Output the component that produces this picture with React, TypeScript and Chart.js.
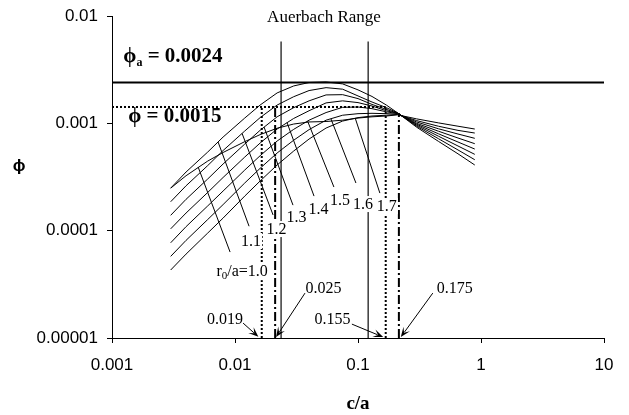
import React, { useEffect, useRef } from "react";
import { Chart, registerables } from "chart.js";

Chart.register(...registerables);

// ---------------- data ----------------
const cOverA = [0.003, 0.004, 0.006, 0.008, 0.012, 0.016, 0.022, 0.03, 0.04, 0.055, 0.075, 0.1, 0.13, 0.17, 0.21, 0.3, 0.45, 0.65, 0.89];

const phiR10 = [2.49e-4, 3.25e-4, 4.45e-4, 5.35e-4, 6.75e-4, 7.85e-4, 9.0e-4, 9.85e-4, 1.03e-3, 1.04e-3, 1.07e-3, 1.12e-3, 1.15e-3, 1.17e-3, 1.2e-3, 1.1e-3, 1.01e-3, 9.4e-4, 8.85e-4];
const phiR11 = [2.49e-4, 3.52e-4, 5.40e-4, 7.45e-4, 1.12e-3, 1.48e-3, 1.92e-3, 2.23e-3, 2.40e-3, 2.43e-3, 2.33e-3, 2.05e-3, 1.78e-3, 1.48e-3, 1.25e-3, 9.2e-4, 6.8e-4, 5.2e-4, 4.09e-4];
const phiR12 = [1.86e-4, 2.62e-4, 4.04e-4, 5.58e-4, 8.48e-4, 1.13e-3, 1.48e-3, 1.77e-3, 2.02e-3, 2.15e-3, 2.08e-3, 1.80e-3, 1.58e-3, 1.40e-3, 1.25e-3, 9.4e-4, 7.2e-4, 5.65e-4, 4.58e-4];
const phiR13 = [1.39e-4, 1.96e-4, 3.03e-4, 4.18e-4, 6.41e-4, 8.61e-4, 1.15e-3, 1.40e-3, 1.62e-3, 1.84e-3, 1.85e-3, 1.70e-3, 1.50e-3, 1.35e-3, 1.24e-3, 9.6e-4, 7.6e-4, 6.15e-4, 5.14e-4];
const phiR14 = [1.04e-4, 1.46e-4, 2.27e-4, 3.13e-4, 4.85e-4, 6.55e-4, 8.85e-4, 1.11e-3, 1.31e-3, 1.55e-3, 1.62e-3, 1.56e-3, 1.45e-3, 1.31e-3, 1.24e-3, 9.8e-4, 8.0e-4, 6.7e-4, 5.76e-4];
const phiR15 = [7.71e-5, 1.09e-4, 1.70e-4, 2.34e-4, 3.67e-4, 4.99e-4, 6.84e-4, 8.79e-4, 1.07e-3, 1.26e-3, 1.41e-3, 1.42e-3, 1.37e-3, 1.28e-3, 1.23e-3, 1.0e-3, 8.45e-4, 7.3e-4, 6.46e-4];
const phiR16 = [5.76e-5, 8.12e-5, 1.27e-4, 1.75e-4, 2.78e-4, 3.81e-4, 5.29e-4, 6.96e-4, 8.74e-4, 1.07e-3, 1.19e-3, 1.23e-3, 1.24e-3, 1.23e-3, 1.22e-3, 1.03e-3, 8.9e-4, 7.95e-4, 7.25e-4];
const phiR17 = [4.30e-5, 6.05e-5, 9.50e-5, 1.31e-4, 2.10e-4, 2.90e-4, 4.09e-4, 5.52e-4, 7.14e-4, 9.04e-4, 1.05e-3, 1.13e-3, 1.17e-3, 1.19e-3, 1.21e-3, 1.06e-3, 9.4e-4, 8.6e-4, 8.12e-4];

const curveSeries = [phiR10, phiR11, phiR12, phiR13, phiR14, phiR15, phiR16, phiR17];
const curveNames = ["1.0", "1.1", "1.2", "1.3", "1.4", "1.5", "1.6", "1.7"];

// curve label anchors (centre x, baseline y)
const curveLabelX = [0.01142, 0.0135, 0.02177, 0.0316, 0.0477, 0.0713, 0.1096, 0.1716];
const curveLabelY = [3.77e-5, 7.19e-5, 9.30e-5, 1.216e-4, 1.428e-4, 1.73e-4, 1.59e-4, 1.523e-4];

// leader lines: from curve (top) to label (bottom)
const leaderTopX = [0.00502, 0.00729, 0.01142, 0.01722, 0.02648, 0.0389, 0.0603, 0.0949];
const leaderTopY = [3.91e-4, 6.69e-4, 8.05e-4, 9.24e-4, 1.017e-3, 1.05e-3, 1.099e-3, 1.118e-3];
const leaderBotX = [0.00912, 0.01301, 0.0204, 0.0296, 0.0439, 0.0637, 0.0962, 0.1506];
const leaderBotY = [6.32e-5, 1.10e-4, 1.40e-4, 1.73e-4, 2.10e-4, 2.55e-4, 2.78e-4, 2.24e-4];

// reference lines
const phiA = 0.0024;
const phiCrit = 0.00142; // drawn level of the "ϕ = 0.0015" line
const auerbachX = [0.0237, 0.121];
const auerbachTop = 0.0058;
const dottedX = [0.0165, 0.168];
const dashDotX = [0.0212, 0.215];
const dashDotTop = [0.00142, 0.00125];

// arrow annotations
const arrowText = ["0.019", "0.025", "0.155", "0.175"];
const arrowTextX = [0.00831, 0.0524, 0.062, 0.6115];
const arrowTextY = [1.347e-5, 2.65e-5, 1.347e-5, 2.65e-5];
const arrowTailX = [0.01163, 0.03707, 0.0892, 0.4055];
const arrowTailY = [1.377e-5, 2.62e-5, 1.347e-5, 2.62e-5];
const arrowTipX = [0.01549, 0.02157, 0.1601, 0.2229];
const arrowTipY = [1.026e-5, 1.02e-5, 1.02e-5, 1.02e-5];

// text annotations
const phiALabelAt = { x: 0.001235, y: 0.003726 };
const phiLabelAt = { x: 0.001356, y: 0.001035 };
const auerbachLabelAt = { x: 0.0529, y: 0.00885 };
const yTitleAt = 4e-4;

// axes
const xTicks = [0.001, 0.01, 0.1, 1, 10];
const xTickLabels = ["0.001", "0.01", "0.1", "1", "10"];
const yTicks = [0.00001, 0.0001, 0.001, 0.01];
const yTickLabels = ["0.00001", "0.0001", "0.001", "0.01"];

const SERIF = "'Liberation Serif', 'Times New Roman', 'DejaVu Serif', serif";
const SANS = "'Liberation Sans', Arial, 'DejaVu Sans', sans-serif";

function lineDs(pts: { x: number; y: number }[], extra: any = {}) {
  return {
    data: pts,
    showLine: true,
    borderColor: "#000",
    borderWidth: 1,
    pointRadius: 0,
    fill: false,
    tension: 0,
    ...extra,
  };
}

function drawArrow(ctx: CanvasRenderingContext2D, x0: number, y0: number, x1: number, y1: number) {
  const a = Math.atan2(y1 - y0, x1 - x0);
  const L = 10;
  const W = 4;
  ctx.beginPath();
  ctx.moveTo(x0, y0);
  ctx.lineTo(x1 - 0.6 * L * Math.cos(a), y1 - 0.6 * L * Math.sin(a));
  ctx.stroke();
  ctx.beginPath();
  ctx.moveTo(x1, y1);
  ctx.lineTo(x1 - L * Math.cos(a) + W * Math.sin(a), y1 - L * Math.sin(a) - W * Math.cos(a));
  ctx.lineTo(x1 - 0.55 * L * Math.cos(a), y1 - 0.55 * L * Math.sin(a));
  ctx.lineTo(x1 - L * Math.cos(a) - W * Math.sin(a), y1 - L * Math.sin(a) + W * Math.cos(a));
  ctx.closePath();
  ctx.fill();
}

const annotationPlugin = {
  id: "annotations",
  afterDatasetsDraw(chart: any) {
    const ctx: CanvasRenderingContext2D = chart.ctx;
    const xs = chart.scales.x;
    const ys = chart.scales.y;
    const px = (v: number) => xs.getPixelForValue(v);
    const py = (v: number) => ys.getPixelForValue(v);
    ctx.save();
    ctx.fillStyle = "#000";
    ctx.strokeStyle = "#000";
    ctx.lineWidth = 1;

    // curve labels with white boxes
    const mainFont = `16px ${SERIF}`;
    const subFont = `11px ${SERIF}`;
    curveNames.forEach((name, i) => {
      const cx = px(curveLabelX[i]);
      const by = py(curveLabelY[i]);
      ctx.textBaseline = "alphabetic";
      ctx.textAlign = "left";
      if (i === 0) {
        ctx.font = mainFont;
        const wR = ctx.measureText("r").width;
        const wRest = ctx.measureText("/a=" + name).width;
        ctx.font = subFont;
        const wSub = ctx.measureText("0").width;
        const total = wR + wSub + wRest;
        const x0 = cx - total / 2;
        ctx.fillStyle = "#fff";
        ctx.fillRect(x0 - 2, by - 13, total + 4, 17);
        ctx.fillStyle = "#000";
        ctx.font = mainFont;
        ctx.fillText("r", x0, by);
        ctx.font = subFont;
        ctx.fillText("0", x0 + wR, by + 3);
        ctx.font = mainFont;
        ctx.fillText("/a=" + name, x0 + wR + wSub, by);
      } else {
        ctx.font = mainFont;
        const w = ctx.measureText(name).width;
        const x0 = cx - w / 2;
        ctx.fillStyle = "#fff";
        ctx.fillRect(x0 - 1, by - 13, w + 2, 16);
        ctx.fillStyle = "#000";
        ctx.fillText(name, x0, by);
      }
    });

    // phi_a label
    {
      const x0 = px(phiALabelAt.x);
      const by = py(phiALabelAt.y);
      ctx.textAlign = "left";
      ctx.textBaseline = "alphabetic";
      ctx.font = `bold 21px ${SERIF}`;
      ctx.fillText("ϕ", x0, by);
      const w1 = ctx.measureText("ϕ").width;
      ctx.font = `bold 12px ${SERIF}`;
      ctx.fillText("a", x0 + w1, by + 4);
      const w2 = ctx.measureText("a").width;
      ctx.font = `bold 21px ${SERIF}`;
      ctx.fillText(" = 0.0024", x0 + w1 + w2, by);
    }
    // phi label
    {
      const x0 = px(phiLabelAt.x);
      const by = py(phiLabelAt.y);
      ctx.font = `bold 21px ${SERIF}`;
      ctx.fillText("ϕ = 0.0015", x0, by);
    }
    // Auerbach Range
    {
      ctx.font = `17px ${SERIF}`;
      ctx.textAlign = "center";
      ctx.fillText("Auerbach Range", px(auerbachLabelAt.x), py(auerbachLabelAt.y));
    }
    // arrows
    ctx.font = `16px ${SERIF}`;
    ctx.textAlign = "center";
    arrowText.forEach((t, i) => {
      ctx.fillText(t, px(arrowTextX[i]), py(arrowTextY[i]));
      drawArrow(ctx, px(arrowTailX[i]), py(arrowTailY[i]), px(arrowTipX[i]), py(arrowTipY[i]));
    });

    // y title (upright)
    ctx.font = `bold 17px ${SANS}`;
    ctx.textAlign = "center";
    ctx.textBaseline = "middle";
    ctx.fillText("ϕ", ys.left + 19, py(yTitleAt));
    ctx.restore();
  },
};

export default function App() {
  const canvasRef = useRef<HTMLCanvasElement | null>(null);

  useEffect(() => {
    if (!canvasRef.current) return;
    const datasets: any[] = [];

    curveSeries.forEach((s) => {
      datasets.push(lineDs(cOverA.map((c, i) => ({ x: c, y: s[i] }))));
    });
    curveNames.forEach((_, i) => {
      datasets.push(
        lineDs([
          { x: leaderTopX[i], y: leaderTopY[i] },
          { x: leaderBotX[i], y: leaderBotY[i] },
        ])
      );
    });
    // phi_a line
    datasets.push(lineDs([{ x: xTicks[0], y: phiA }, { x: xTicks[xTicks.length - 1], y: phiA }], { borderWidth: 2 }));
    // phi = 0.0015 dotted
    datasets.push(
      lineDs([{ x: xTicks[0], y: phiCrit }, { x: dottedX[1], y: phiCrit }], { borderWidth: 2, borderDash: [2, 2] })
    );
    // Auerbach range verticals
    auerbachX.forEach((x) => {
      datasets.push(lineDs([{ x, y: yTicks[0] }, { x, y: auerbachTop }], { borderWidth: 1.5, borderColor: "#3a3a3a" }));
    });
    // dotted verticals
    dottedX.forEach((x) => {
      datasets.push(lineDs([{ x, y: yTicks[0] }, { x, y: phiCrit }], { borderWidth: 2, borderDash: [2, 2] }));
    });
    // dash-dot verticals
    dashDotX.forEach((x, i) => {
      datasets.push(
        lineDs([{ x, y: yTicks[0] }, { x, y: dashDotTop[i] }], { borderWidth: 2, borderDash: [9, 3, 2, 3] })
      );
    });

    const chart = new Chart(canvasRef.current, {
      type: "scatter",
      data: { datasets },
      options: {
        responsive: true,
        maintainAspectRatio: false,
        animation: false,
        devicePixelRatio: 1,
        layout: { padding: { top: 16, right: 25, bottom: 0, left: 0 } },
        plugins: { legend: { display: false }, tooltip: { enabled: false } },
        scales: {
          x: {
            type: "logarithmic",
            min: 0.001,
            max: 10,
            afterBuildTicks: (s: any) => {
              s.ticks = xTicks.map((v) => ({ value: v }));
            },
            afterFit: (s: any) => {
              s.height = 77;
              s.paddingLeft = 0;
              s.paddingRight = 0;
            },
            ticks: {
              autoSkip: false,
              maxRotation: 0,
              color: "#000",
              padding: 12,
              font: { family: SANS, size: 17 },
              callback: (_v: any, i: number) => xTickLabels[i],
            },
            grid: { drawOnChartArea: false, drawTicks: true, tickLength: 5, color: "#000" },
            border: { display: true, color: "#000", width: 1 },
            title: {
              display: true,
              text: "c/a",
              color: "#000",
              font: { family: SERIF, size: 19, weight: "bold" },
              padding: { top: 0, bottom: 0 },
            },
          },
          y: {
            type: "logarithmic",
            min: 0.00001,
            max: 0.01,
            afterBuildTicks: (s: any) => {
              s.ticks = yTicks.map((v) => ({ value: v }));
            },
            afterFit: (s: any) => {
              s.width = 112;
              s.paddingTop = 0;
              s.paddingBottom = 0;
            },
            ticks: {
              autoSkip: false,
              color: "#000",
              padding: 9,
              font: { family: SANS, size: 17 },
              callback: (_v: any, i: number) => yTickLabels[i],
            },
            grid: { drawOnChartArea: false, drawTicks: true, tickLength: 5, color: "#000" },
            border: { display: true, color: "#000", width: 1 },
          },
        },
      } as any,
      plugins: [annotationPlugin],
    });
    return () => chart.destroy();
  }, []);

  return (
    <div style={{ position: "fixed", left: 0, top: 0, width: 629, height: 415, background: "#fff" }}>
      <canvas ref={canvasRef} />
    </div>
  );
}
